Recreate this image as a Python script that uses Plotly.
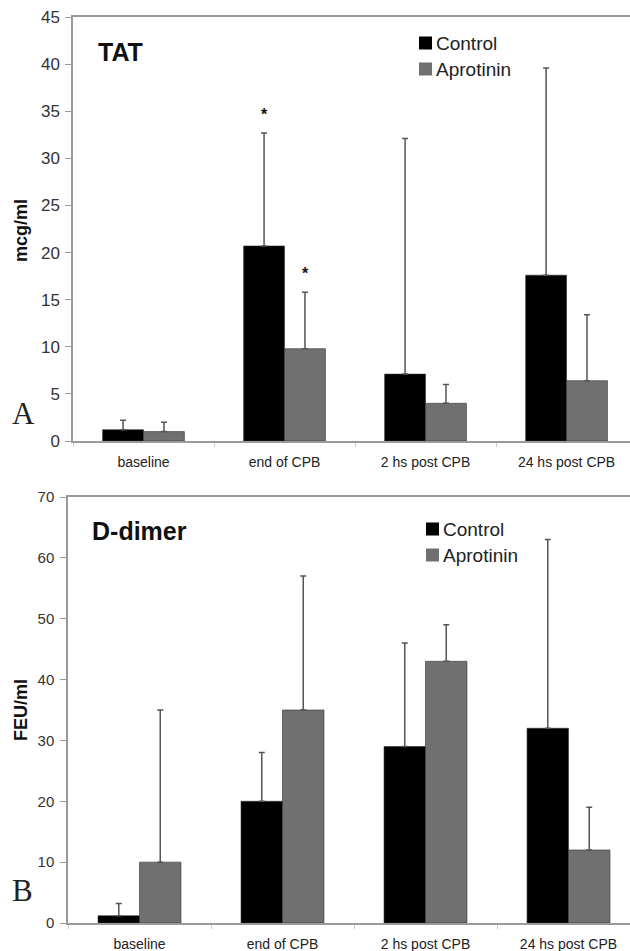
import plotly.graph_objects as go

categories = ["baseline", "end of CPB", "2 hs post CPB", "24 hs post CPB"]

tat_control = [1.2, 20.7, 7.1, 17.6]
tat_control_sd = [1.0, 12.0, 25.0, 22.0]
tat_aprotinin = [1.0, 9.8, 4.0, 6.4]
tat_aprotinin_sd = [1.0, 6.0, 2.0, 7.0]

dd_control = [1.2, 20.0, 29.0, 32.0]
dd_control_sd = [2.0, 8.0, 17.0, 31.0]
dd_aprotinin = [10.0, 35.0, 43.0, 12.0]
dd_aprotinin_sd = [25.0, 22.0, 6.0, 7.0]

tat_yticks = [0, 5, 10, 15, 20, 25, 30, 35, 40, 45]
dd_yticks = [0, 10, 20, 30, 40, 50, 60, 70]

series_names = ["Control", "Aprotinin"]

# significance markers (category index, group)
tat_stars = [(1, "control"), (1, "aprotinin")]

W, H = 630, 951
FONT = "Arial, Liberation Sans, Helvetica, sans-serif"
C_CTRL = "#000000"
C_APRO = "#707070"
ERRC = "#555555"


def px(x):
    return x / W


def py(y):
    return 1 - y / H


fig = go.Figure()


def add_pair(ctrl, ctrl_sd, apro, apro_sd, xa, ya):
    for name, vals, sd, col in [(series_names[0], ctrl, ctrl_sd, C_CTRL),
                                (series_names[1], apro, apro_sd, C_APRO)]:
        fig.add_trace(go.Bar(
            x=categories, y=vals, name=name, xaxis=xa, yaxis=ya,
            offsetgroup=name, showlegend=False,
            marker=dict(color=col, line=dict(color="#333333", width=0.6)),
            error_y=dict(type="data", symmetric=False, array=sd,
                         arrayminus=[0] * len(sd), color=ERRC,
                         thickness=1.5, width=3),
        ))


add_pair(tat_control, tat_control_sd, tat_aprotinin, tat_aprotinin_sd, "x", "y")
add_pair(dd_control, dd_control_sd, dd_aprotinin, dd_aprotinin_sd, "x2", "y2")

axis_common = dict(
    showline=True, linecolor="#9a9a9a", linewidth=1.5,
    showgrid=False, zeroline=False, automargin=False,
)
xtickfont = dict(family=FONT, size=14, color="#222222")

fig.update_layout(
    width=W, height=H,
    margin=dict(l=0, r=0, t=0, b=0, autoexpand=False),
    paper_bgcolor="white", plot_bgcolor="white",
    barmode="group", bargap=0.42, bargroupgap=0,
    font=dict(family=FONT, color="#222222"),
    showlegend=False,
    xaxis=dict(domain=[px(73), 1], anchor="y", type="category",
               range=[-0.5, 3.45], mirror=True, ticks="outside",
               tickson="boundaries", ticklen=4, tickcolor="#cccccc",
               ticklabelstandoff=7, tickfont=xtickfont, **axis_common),
    yaxis=dict(domain=[py(441), py(17)], anchor="x", range=[0, 45],
               tickvals=tat_yticks, ticks="outside", ticklen=6,
               tickcolor="#9a9a9a", ticklabelstandoff=2,
               tickfont=dict(family=FONT, size=17, color="#333333"), **axis_common),
    xaxis2=dict(domain=[px(68), 1], anchor="y2", type="category",
                range=[-0.5, 3.43], mirror=True, ticks="outside",
                tickson="boundaries", ticklen=4, tickcolor="#cccccc",
                ticklabelstandoff=7, tickfont=xtickfont, **axis_common),
    yaxis2=dict(domain=[py(923), py(497)], anchor="x2", range=[0, 70],
                tickvals=dd_yticks, ticks="outside", ticklen=6,
                tickcolor="#9a9a9a", ticklabelstandoff=3,
                tickfont=dict(family=FONT, size=15, color="#333333"), **axis_common),
)

annotations = [
    dict(text="<b>TAT</b>", x=px(96), y=py(52), xanchor="left", yanchor="middle",
         font=dict(family=FONT, size=25, color="#111111")),
    dict(text="<b>D-dimer</b>", x=px(90), y=py(531), xanchor="left", yanchor="middle",
         font=dict(family=FONT, size=25, color="#111111")),
    dict(text="<b>mcg/ml</b>", x=px(21), y=py(231), textangle=-90,
         xanchor="center", yanchor="middle",
         font=dict(family=FONT, size=18, color="#111111")),
    dict(text="<b>FEU/ml</b>", x=px(21), y=py(710), textangle=-90,
         xanchor="center", yanchor="middle",
         font=dict(family=FONT, size=18, color="#111111")),
    dict(text="A", x=px(23), y=py(414), xanchor="center", yanchor="middle",
         font=dict(family="Liberation Serif, Times New Roman, serif", size=31, color="#222222")),
    dict(text="B", x=px(22), y=py(890), xanchor="center", yanchor="middle",
         font=dict(family="Liberation Serif, Times New Roman, serif", size=31, color="#222222")),
]

# manual legends (square + label), positioned in paper pixels
shapes = []
legend_specs = [
    # (square left x, first row centre y, text left x)
    (419, 43, 436),
    (426, 529, 443),
]
for sq_x, row_y, tx in legend_specs:
    for i, (name, col) in enumerate(zip(series_names, [C_CTRL, C_APRO])):
        cy = row_y + i * 26
        shapes.append(dict(type="rect", xref="paper", yref="paper",
                           x0=px(sq_x), x1=px(sq_x + 13), y0=py(cy + 6.5), y1=py(cy - 6.5),
                           fillcolor=col, line=dict(width=0)))
        annotations.append(dict(text=name, x=px(tx - 2), y=py(cy), xanchor="left",
                                yanchor="middle",
                                font=dict(family=FONT, size=19, color="#222222")))

for a in annotations:
    a.update(xref="paper", yref="paper", showarrow=False)

for idx, grp in tat_stars:
    if grp == "control":
        top = tat_control[idx] + tat_control_sd[idx]
        shift = -20.5
    else:
        top = tat_aprotinin[idx] + tat_aprotinin_sd[idx]
        shift = 20.5
    annotations.append(dict(text="<b>*</b>", x=categories[idx], y=top, xref="x", yref="y",
                            xshift=shift, yshift=8, yanchor="bottom", showarrow=False,
                            font=dict(family=FONT, size=16, color="#111111")))

fig.update_layout(annotations=annotations, shapes=shapes)

fig.write_html("out.html")
